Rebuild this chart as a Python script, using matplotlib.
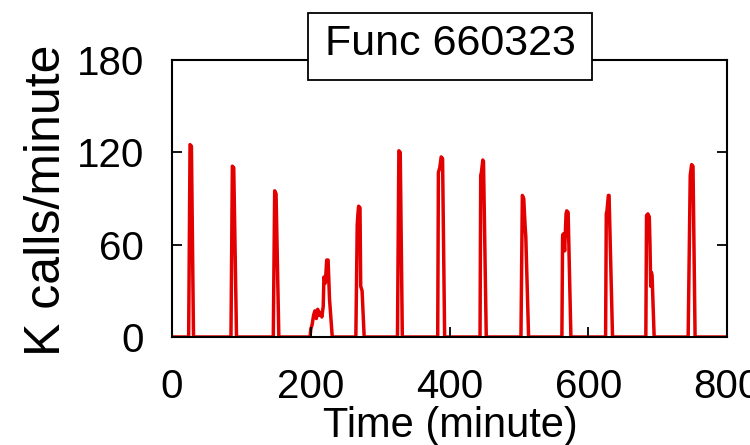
import matplotlib
matplotlib.use("Agg")
import matplotlib.pyplot as plt
from matplotlib.patches import Rectangle

plt.rcParams['font.family'] = ['Liberation Sans', 'DejaVu Sans']

# Data: time (minute) and invocation rate (K calls/minute), key vertices of the trace
time_min = [0,
            24, 26, 28, 31,
            85, 87, 89, 93,
            146, 148, 150, 154,
            199, 200, 202, 204, 206, 208, 210, 212, 214, 216, 218, 219, 221, 223, 225, 227, 231,
            265, 267, 268, 269, 271, 272, 274, 277,
            325, 327, 329, 332,
            383, 384, 386, 388, 390, 393,
            444, 445, 446, 448, 449, 453,
            503, 505, 507, 509, 510, 514,
            562, 563, 564, 566, 568, 569, 571, 575,
            625, 626, 627, 629, 630, 635,
            683, 684, 686, 688, 689, 690, 691, 692, 695,
            744, 747, 749, 751, 754,
            800]
calls_k = [0,
           0, 125, 124, 0,
           0, 111, 110, 0,
           0, 95, 93, 0,
           0, 5, 8, 14, 17, 12, 18, 14, 16, 13, 20, 39, 35, 50, 50, 25, 0,
           0, 73, 80, 85, 84, 33, 30, 0,
           0, 121, 120, 0,
           0, 107, 110, 117, 116, 0,
           0, 105, 107, 115, 114, 0,
           0, 92, 90, 72, 65, 0,
           0, 65, 67, 56, 80, 82, 81, 0,
           0, 80, 82, 92, 92, 0,
           0, 79, 80, 78, 60, 33, 42, 40, 0,
           0, 105, 112, 111, 0,
           0]

x_ticks = [0, 200, 400, 600, 800]
y_ticks = [0, 60, 120, 180]
title = "Func 660323"
x_label = "Time (minute)"
y_label = "K calls/minute"

W, H = 750, 445
fig = plt.figure(figsize=(7.5, 4.45), dpi=100)
ax = fig.add_axes([172 / W, 1 - 337 / H, (727 - 172) / W, (337 - 60) / H])

ax.plot(time_min, calls_k, color='#e20000', lw=2.5, zorder=1)
ax.set_xlim(0, 800)
ax.set_ylim(0, 180)
ax.set_xticks(x_ticks)
ax.set_yticks(y_ticks)
ax.tick_params(axis='both', direction='in', length=7, width=1.3,
               top=True, right=True, labelsize=29, colors='black')
ax.tick_params(axis='x', pad=22)
ax.tick_params(axis='y', pad=20)
for s in ax.spines.values():
    s.set_linewidth(1.5)
    s.set_zorder(3)

# axis labels
fig.text(450 / W, 1 - 437 / H, x_label, ha='center', va='baseline', fontsize=30)
fig.text(60 / W, 1 - 200 / H, y_label, ha='center', va='baseline', fontsize=36,
         rotation=90, rotation_mode='anchor')

# title box
fig.add_artist(Rectangle((308 / W, 1 - 80 / H), (592 - 308) / W, (80 - 13) / H,
                         transform=fig.transFigure, facecolor='white',
                         edgecolor='black', lw=1.3, zorder=5))
fig.text(450 / W, 1 - 55 / H, title, ha='center', va='baseline', fontsize=31, zorder=6)

fig.savefig('out.png', dpi=100)
